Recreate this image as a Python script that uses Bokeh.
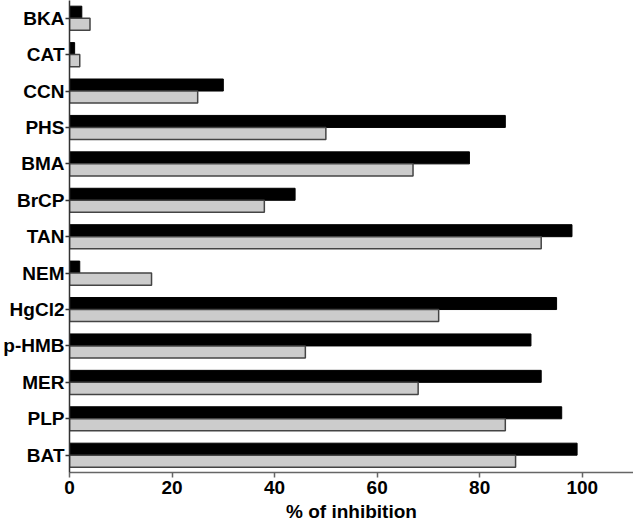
from bokeh.plotting import figure
from bokeh.models import Range1d, FixedTicker, ColumnDataSource
from bokeh.transform import dodge
from bokeh.embed import file_html
from bokeh.resources import INLINE

compounds = ["BKA", "CAT", "CCN", "PHS", "BMA", "BrCP", "TAN", "NEM",
             "HgCl2", "p-HMB", "MER", "PLP", "BAT"]
black_vals = [2.4, 1.0, 30, 85, 78, 44, 98, 2, 95, 90, 92, 96, 99]
gray_vals = [4, 2, 25, 50, 67, 38, 92, 16, 72, 46, 68, 85, 87]
x_ticks = [0, 20, 40, 60, 80, 100]
x_title = "% of inhibition"

n = len(compounds)
pos = [n - 1 - i for i in range(n)]
src = ColumnDataSource(dict(pos=pos, black=black_vals, gray=gray_vals, name=compounds))

FONT = "Liberation Sans"
FS = "19px"

p = figure(width=633, height=524, output_backend="svg", toolbar_location=None,
           x_range=Range1d(0, 110), y_range=Range1d(-0.475, 12.486),
           min_border_left=0, min_border_right=0, min_border_top=0, min_border_bottom=0)

p.hbar(y=dodge("pos", 0.165, range=p.y_range), left=0, right="black", height=0.33,
       fill_color="black", line_color="black", line_width=1, source=src)
p.hbar(y=dodge("pos", -0.165, range=p.y_range), left=0, right="gray", height=0.33,
       fill_color="#cccccc", line_color="#444444", line_width=1.5, source=src)

p.outline_line_color = None
p.xgrid.grid_line_color = None
p.ygrid.grid_line_color = None

p.xaxis.ticker = FixedTicker(ticks=x_ticks)
p.xaxis.minor_tick_line_color = None
p.xaxis.major_tick_out = 5
p.xaxis.major_tick_in = 0
p.xaxis.axis_line_color = "#666666"
p.xaxis.axis_line_width = 1.5
p.xaxis.major_tick_line_color = "#666666"
p.xaxis.major_tick_line_width = 1.5
p.xaxis.major_label_text_font = FONT
p.xaxis.major_label_text_font_style = "bold"
p.xaxis.major_label_text_font_size = FS
p.xaxis.major_label_text_color = "black"
p.xaxis.major_label_standoff = 3
p.xaxis.axis_label = x_title
p.xaxis.axis_label_text_font = FONT
p.xaxis.axis_label_text_font_style = "bold"
p.xaxis.axis_label_text_font_size = FS
p.xaxis.axis_label_text_color = "black"
p.xaxis.axis_label_standoff = 4

p.yaxis.ticker = FixedTicker(ticks=pos)
p.yaxis.major_label_overrides = {k: v for k, v in zip(pos, compounds)}
p.yaxis.minor_tick_line_color = None
p.yaxis.major_tick_out = 4
p.yaxis.major_tick_in = 0
p.yaxis.axis_line_color = "#333333"
p.yaxis.axis_line_width = 1.5
p.yaxis.major_tick_line_color = "#333333"
p.yaxis.major_tick_line_width = 1.5
p.yaxis.major_label_text_font = FONT
p.yaxis.major_label_text_font_style = "bold"
p.yaxis.major_label_text_font_size = FS
p.yaxis.major_label_text_color = "black"
p.yaxis.major_label_standoff = 1

open("out.html", "w").write(file_html(p, INLINE))
